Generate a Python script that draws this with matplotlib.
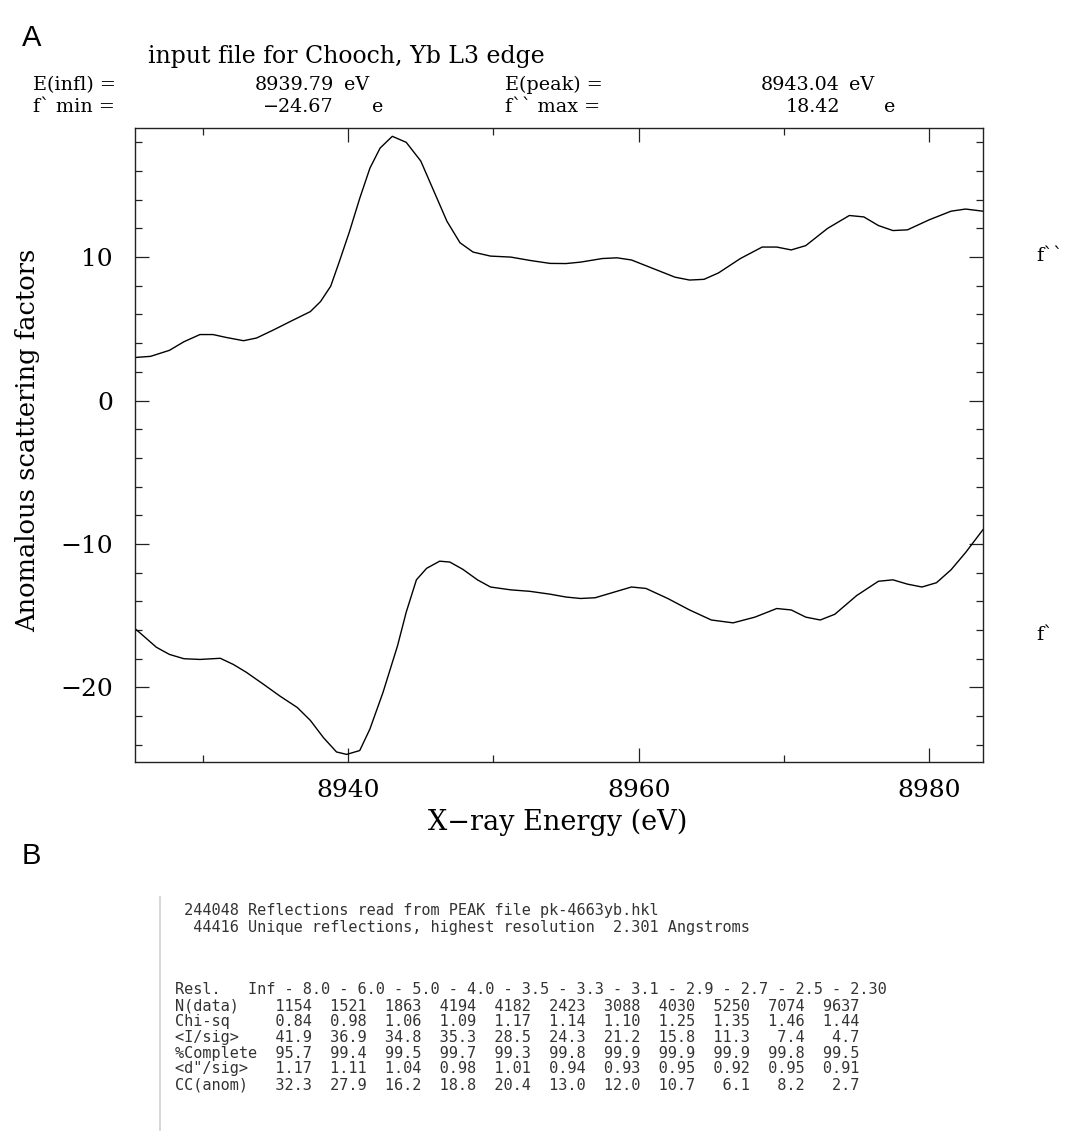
import matplotlib
matplotlib.use("Agg")
import matplotlib.pyplot as plt
from matplotlib.ticker import MultipleLocator, FixedLocator
from matplotlib.lines import Line2D

# ---------------- data ----------------
energy_fpp = [8925.33, 8926.4, 8927.7, 8928.7, 8929.8, 8930.7, 8931.6, 8932.8, 8933.7, 8934.9,
              8936.0, 8937.4, 8938.1, 8938.8, 8939.4, 8940.1, 8940.8, 8941.5, 8942.2, 8943.04,
              8944.0, 8945.0, 8945.9, 8946.8, 8947.7, 8948.6, 8949.8, 8951.2, 8952.5, 8953.9,
              8955.0, 8956.0, 8957.5, 8958.5, 8959.5, 8961.0, 8962.5, 8963.5, 8964.5, 8965.5,
              8967.0, 8968.5, 8969.5, 8970.5, 8971.5, 8973.0, 8974.5, 8975.5, 8976.5, 8977.5,
              8978.5, 8980.0, 8981.5, 8982.5, 8983.7]
fpp = [3.0, 3.08, 3.5, 4.1, 4.6, 4.6, 4.4, 4.17, 4.36, 4.94,
       5.5, 6.2, 6.9, 7.97, 9.7, 11.8, 14.1, 16.2, 17.6, 18.42,
       18.0, 16.7, 14.6, 12.5, 11.0, 10.35, 10.07, 10.0, 9.77, 9.56,
       9.55, 9.65, 9.9, 9.95, 9.8, 9.2, 8.6, 8.4, 8.45, 8.9,
       9.9, 10.7, 10.7, 10.5, 10.8, 12.0, 12.9, 12.8, 12.2, 11.85,
       11.9, 12.6, 13.2, 13.35, 13.2]

energy_fp = [8925.33, 8925.9, 8926.8, 8927.7, 8928.7, 8929.8, 8931.2, 8932.1, 8933.0, 8934.2,
             8935.3, 8936.5, 8937.4, 8938.3, 8939.2, 8939.9, 8940.8, 8941.5, 8942.4, 8943.4,
             8944.0, 8944.7, 8945.4, 8946.3, 8947.0, 8947.9, 8948.9, 8949.8, 8951.2, 8952.5,
             8953.9, 8955.0, 8956.0, 8957.0, 8958.5, 8959.5, 8960.5, 8962.0, 8963.5, 8965.0,
             8966.5, 8968.0, 8969.5, 8970.5, 8971.5, 8972.5, 8973.5, 8975.0, 8976.5, 8977.5,
             8978.5, 8979.5, 8980.5, 8981.5, 8982.5, 8983.7]
fp = [-15.9, -16.4, -17.2, -17.7, -18.0, -18.05, -17.97, -18.4, -18.95, -19.8,
      -20.6, -21.4, -22.3, -23.5, -24.5, -24.67, -24.4, -22.9, -20.35, -17.1,
      -14.75, -12.5, -11.7, -11.2, -11.26, -11.77, -12.5, -13.0, -13.2, -13.3,
      -13.5, -13.7, -13.8, -13.75, -13.3, -13.0, -13.1, -13.8, -14.6, -15.3,
      -15.5, -15.1, -14.5, -14.6, -15.1, -15.3, -14.9, -13.6, -12.6, -12.5,
      -12.8, -13.0, -12.7, -11.8, -10.6, -9.0]

x_major = [8940, 8960, 8980]
x_minor = [8930, 8950, 8970]
y_major = [-20, -10, 0, 10]

title = "input file for Chooch, Yb L3 edge"
e_infl, e_peak = "8939.79", "8943.04"
fp_min, fpp_max = "\u221224.67", "18.42"

# table (panel B)
n_reflections = 244048
n_unique = 44416
peak_file = "pk-4663yb.hkl"
high_res = "2.301"
resl_bounds = ["Inf", "8.0", "6.0", "5.0", "4.0", "3.5", "3.3", "3.1", "2.9", "2.7", "2.5", "2.30"]
n_data = [1154, 1521, 1863, 4194, 4182, 2423, 3088, 4030, 5250, 7074, 9637]
chi_sq = [0.84, 0.98, 1.06, 1.09, 1.17, 1.14, 1.10, 1.25, 1.35, 1.46, 1.44]
i_sig = [41.9, 36.9, 34.8, 35.3, 28.5, 24.3, 21.2, 15.8, 11.3, 7.4, 4.7]
complete = [95.7, 99.4, 99.5, 99.7, 99.3, 99.8, 99.9, 99.9, 99.9, 99.8, 99.5]
d_sig = [1.17, 1.11, 1.04, 0.98, 1.01, 0.94, 0.93, 0.95, 0.92, 0.95, 0.91]
cc_anom = [32.3, 27.9, 16.2, 18.8, 20.4, 13.0, 12.0, 10.7, 6.1, 8.2, 2.7]

# ---------------- figure ----------------
W, H = 1066, 1135
fig = plt.figure(figsize=(W / 100, H / 100), dpi=100)
fig.patch.set_facecolor("white")


def fx(x):
    return x / W


def fy(y):
    return 1 - y / H


SERIF = "DejaVu Serif"
ax_l, ax_r, ax_t, ax_b = 135, 983, 128, 762
ax = fig.add_axes([fx(ax_l), fy(ax_b), (ax_r - ax_l) / W, (ax_b - ax_t) / H])
ax.plot(energy_fpp, fpp, color="black", lw=1.0)
ax.plot(energy_fp, fp, color="black", lw=1.0)
ax.set_xlim(8925.33, 8983.7)
ax.set_ylim(-25.2, 19.0)
ax.xaxis.set_major_locator(FixedLocator(x_major))
ax.xaxis.set_minor_locator(FixedLocator(x_minor))
ax.yaxis.set_major_locator(FixedLocator(y_major))
ax.yaxis.set_minor_locator(MultipleLocator(2))
ax.tick_params(which="both", direction="in", top=True, right=True, width=0.9, color="#222222")
ax.tick_params(which="major", length=10)
ax.tick_params(which="minor", length=5)
ax.tick_params(axis="x", which="major", pad=12, labelsize=18)
ax.tick_params(axis="y", which="major", pad=16, labelsize=18)
for lab in ax.get_xticklabels() + ax.get_yticklabels():
    lab.set_fontfamily(SERIF)
for s in ax.spines.values():
    s.set_linewidth(1.0)
    s.set_color("#222222")

# axis labels
fig.text(fx(558), fy(822), "X\u2212ray Energy (eV)", family=SERIF, fontsize=19.5,
         ha="center", va="center")
fig.text(fx(28), fy(440), "Anomalous scattering factors", family=SERIF, fontsize=18.5,
         ha="center", va="center", rotation=90)

# title and info lines
fig.text(fx(148), fy(57), title, family=SERIF, fontsize=17, ha="left", va="center")
info_size = 13.8
row1, row2 = 85, 107
fig.text(fx(33), fy(row1), "E(infl) =", family=SERIF, fontsize=info_size, ha="left", va="center")
fig.text(fx(334), fy(row1), e_infl, family=SERIF, fontsize=info_size, ha="right", va="center")
fig.text(fx(344), fy(row1), "eV", family=SERIF, fontsize=info_size, ha="left", va="center")
fig.text(fx(33), fy(row2), "f` min =", family=SERIF, fontsize=info_size, ha="left", va="center")
fig.text(fx(334), fy(row2), fp_min, family=SERIF, fontsize=info_size, ha="right", va="center")
fig.text(fx(372), fy(row2), "e", family=SERIF, fontsize=info_size, ha="left", va="center")
fig.text(fx(505), fy(row1), "E(peak) =", family=SERIF, fontsize=info_size, ha="left", va="center")
fig.text(fx(840), fy(row1), e_peak, family=SERIF, fontsize=info_size, ha="right", va="center")
fig.text(fx(849), fy(row1), "eV", family=SERIF, fontsize=info_size, ha="left", va="center")
fig.text(fx(505), fy(row2), "f`` max =", family=SERIF, fontsize=info_size, ha="left", va="center")
fig.text(fx(840), fy(row2), fpp_max, family=SERIF, fontsize=info_size, ha="right", va="center")
fig.text(fx(884), fy(row2), "e", family=SERIF, fontsize=info_size, ha="left", va="center")

# curve labels on the right
fig.text(fx(1036), fy(256), "f``", family=SERIF, fontsize=14, ha="left", va="center")
fig.text(fx(1036), fy(635), "f`", family=SERIF, fontsize=14, ha="left", va="center")

# panel letters
fig.text(fx(22), fy(38), "A", family="Liberation Sans", fontsize=21, ha="left", va="center")
fig.text(fx(22), fy(856), "B", family="Liberation Sans", fontsize=21, ha="left", va="center")

# ---------------- panel B text block ----------------
MONO = "DejaVu Sans Mono"
tcol = "#333333"
tsize = 11.0
fig.add_artist(Line2D([fx(160), fx(160)], [fy(897), fy(1130)], transform=fig.transFigure,
                      color="#d0d0d0", lw=1.2))
header = [
    f" {n_reflections:6d} Reflections read from PEAK file {peak_file}",
    f" {n_unique:6d} Unique reflections, highest resolution  {high_res} Angstroms",
]
table = [
    "Resl.   " + " - ".join(resl_bounds),
    "N(data)  " + "".join(f"{v:6d}" for v in n_data),
    "Chi-sq   " + "".join(f"{v:6.2f}" for v in chi_sq),
    "<I/sig>  " + "".join(f"{v:6.1f}" for v in i_sig),
    "%Complete" + "".join(f"{v:6.1f}" for v in complete),
    "<d\"/sig> " + "".join(f"{v:6.2f}" for v in d_sig),
    "CC(anom) " + "".join(f"{v:6.1f}" for v in cc_anom),
]
for i, txt in enumerate(header):
    fig.text(fx(175), fy(911 + i * 16.5), txt, family=MONO, fontsize=tsize, color=tcol,
             ha="left", va="center")
for i, txt in enumerate(table):
    fig.text(fx(175), fy(990 + i * 15.8), txt, family=MONO, fontsize=tsize, color=tcol,
             ha="left", va="center")

fig.savefig("out.png", dpi=100, facecolor="white")
